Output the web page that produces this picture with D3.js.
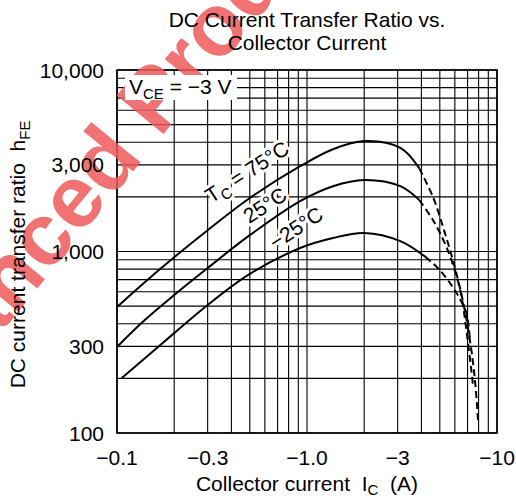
<!DOCTYPE html>
<html>
<head>
<meta charset="utf-8">
<script src="https://cdn.jsdelivr.net/npm/d3@7"></script>
<style>
  body { margin: 0; background: #fff; }
  svg { display: block; font-family: "Liberation Sans", Arial, sans-serif; }
</style>
</head>
<body>
<svg id="chart" width="516" height="500"></svg>
<script>
// hFE vs. collector current, log-log, three case temperatures.
// Currents are magnitudes (the axis labels carry the minus sign).

const xTicks = [0.1, 0.3, 1, 3, 10];
const xTickLabels = ["\u22120.1", "\u22120.3", "\u22121.0", "\u22123", "\u221210"];
const yTicks = [100, 300, 1000, 3000, 10000];
const yTickLabels = ["100", "300", "1,000", "3,000", "10,000"];

// Solid part of each curve, then the dashed continuation.
const ic75 = [0.1, 0.14, 0.2, 0.3, 0.5, 0.92, 1.37, 2.0, 3.1, 3.9];
const hfe75 = [495, 678, 930, 1310, 1970, 2950, 3660, 4060, 3720, 2870];
const ic75Dash = [3.9, 4.6, 5.2, 5.85, 6.6, 7.2, 7.66, 7.94];
const hfe75Dash = [2870, 2000, 1365, 900, 541, 325, 195, 118];

const ic25 = [0.1, 0.14, 0.2, 0.3, 0.5, 0.92, 1.37, 2.0, 3.1, 3.9];
const hfe25 = [298, 419, 576, 811, 1230, 1895, 2290, 2480, 2290, 1920];
const ic25Dash = [3.9, 4.6, 5.5, 6.4, 6.9, 7.48];
const hfe25Dash = [1920, 1490, 1019, 613, 370, 183];

const icM25 = [0.106, 0.2, 0.3, 0.5, 0.92, 1.37, 2.0, 3.1, 4.2];
const hfeM25 = [201, 355, 507, 752, 1045, 1187, 1265, 1140, 934];
const icM25Dash = [4.2, 5.0, 5.85, 6.3, 6.9, 7.2];
const hfeM25Dash = [934, 790, 637, 561, 458, 325];

// Curve labels, anchored at a data position.
const curveLabels = [
  { ic: 0.483, hfe: 2750, main: "T", sub: "C", rest: " = 75\u00B0C" },
  { ic: 0.60, hfe: 1800, main: "25\u00B0C", sub: "", rest: "" },
  { ic: 0.875, hfe: 1350, main: "\u221225\u00B0C", sub: "", rest: "" },
];

const svg = d3.select("#chart");
const margin = { top: 70, right: 19, bottom: 67, left: 117 };
const W = 516, H = 500;
const FONT = 21;
const SUB = 15;

const x = d3.scaleLog().domain([0.1, 10]).range([margin.left, W - margin.right]);
const y = d3.scaleLog().domain([100, 10000]).range([H - margin.bottom, margin.top]);

// Grid: every 1..9 step in each decade.
const xGrid = x.ticks(20);
const yGrid = y.ticks(20);

const grid = svg.append("g").attr("stroke", "#000").attr("stroke-width", 1.1);
grid.selectAll("line.v").data(xGrid).join("line")
  .attr("x1", (d) => x(d)).attr("x2", (d) => x(d))
  .attr("y1", y(100)).attr("y2", y(10000));
grid.selectAll("line.h").data(yGrid).join("line")
  .attr("y1", (d) => y(d)).attr("y2", (d) => y(d))
  .attr("x1", x(0.1)).attr("x2", x(10));

// Frame.
svg.append("rect")
  .attr("x", x(0.1)).attr("y", y(10000))
  .attr("width", x(10) - x(0.1)).attr("height", y(100) - y(10000))
  .attr("fill", "none").attr("stroke", "#000").attr("stroke-width", 1.6);

// Watermark, diagonal, under the curves and texts.
svg.append("text")
  .attr("transform", "translate(-122,483) rotate(-50.7)")
  .attr("font-size", 88).attr("font-weight", "bold")
  .attr("fill", "#ee5a5a").attr("opacity", 0.85)
  .text("Advanced Product");

const line = d3.line()
  .x((d) => x(d[0]))
  .y((d) => y(d[1]))
  .curve(d3.curveCatmullRom.alpha(0.5));

const solid = [[ic75, hfe75], [ic25, hfe25], [icM25, hfeM25]];
const dashed = [[ic75Dash, hfe75Dash], [ic25Dash, hfe25Dash], [icM25Dash, hfeM25Dash]];
const zip = ([a, b]) => a.map((v, i) => [v, b[i]]);

svg.append("g").selectAll("path").data(solid.map(zip)).join("path")
  .attr("d", line).attr("fill", "none").attr("stroke", "#000").attr("stroke-width", 2);
svg.append("g").selectAll("path").data(dashed.map(zip)).join("path")
  .attr("d", line).attr("fill", "none").attr("stroke", "#000").attr("stroke-width", 2)
  .attr("stroke-dasharray", "7,4");

// Curve labels with white halo so grid lines break around them.
const lab = svg.append("g").selectAll("text").data(curveLabels).join("text")
  .attr("transform", (d) => `translate(${x(d.ic)},${y(d.hfe)}) rotate(-33)`)
  .attr("text-anchor", "middle").attr("dy", "0.35em")
  .attr("font-size", FONT)
  .attr("stroke", "#fff").attr("stroke-width", 6).attr("paint-order", "stroke")
  .attr("stroke-linejoin", "round");
lab.append("tspan").text((d) => d.main);
lab.filter((d) => d.sub).append("tspan").attr("font-size", SUB).attr("dy", 5).text((d) => d.sub);
lab.filter((d) => d.rest).append("tspan").attr("dy", -5).text((d) => d.rest);

// V_CE condition box.
svg.append("rect").attr("x", 125).attr("y", 75).attr("width", 112).attr("height", 25).attr("fill", "#fff");
const vce = svg.append("text").attr("x", 129).attr("y", 94).attr("font-size", FONT);
vce.append("tspan").text("V");
vce.append("tspan").attr("font-size", SUB).attr("dy", 5).text("CE");
vce.append("tspan").attr("dy", -5).text(" = \u22123 V");

// Tick labels.
svg.append("g").selectAll("text").data(xTicks).join("text")
  .attr("x", (d) => x(d)).attr("y", y(100) + 32)
  .attr("text-anchor", "middle").attr("font-size", FONT)
  .text((d, i) => xTickLabels[i]);
svg.append("g").selectAll("text").data(yTicks).join("text")
  .attr("x", x(0.1) - 13).attr("y", (d) => y(d)).attr("dy", "0.36em")
  .attr("text-anchor", "end").attr("font-size", FONT)
  .text((d, i) => yTickLabels[i]);

// Title.
const cx = (x(0.1) + x(10)) / 2;
svg.append("text").attr("x", cx).attr("y", 27).attr("text-anchor", "middle")
  .attr("font-size", FONT).text("DC Current Transfer Ratio vs.");
svg.append("text").attr("x", cx).attr("y", 50).attr("text-anchor", "middle")
  .attr("font-size", FONT).text("Collector Current");

// Axis titles.
const xt = svg.append("text").attr("x", cx).attr("y", 491).attr("text-anchor", "middle")
  .attr("font-size", FONT);
xt.append("tspan").text("Collector current\u00A0\u00A0I");
xt.append("tspan").attr("font-size", SUB).attr("dy", 4).text("C");
xt.append("tspan").attr("dy", -4).text("\u00A0\u00A0(A)");

const yt = svg.append("text")
  .attr("transform", `translate(25,${(y(100) + y(10000)) / 2}) rotate(-90)`)
  .attr("text-anchor", "middle").attr("font-size", FONT);
yt.append("tspan").text("DC current transfer ratio\u00A0\u00A0h");
yt.append("tspan").attr("font-size", SUB).attr("dy", 5).text("FE");
yt.append("tspan").attr("dy", -5).text("\u00A0");
</script>
</body>
</html>
